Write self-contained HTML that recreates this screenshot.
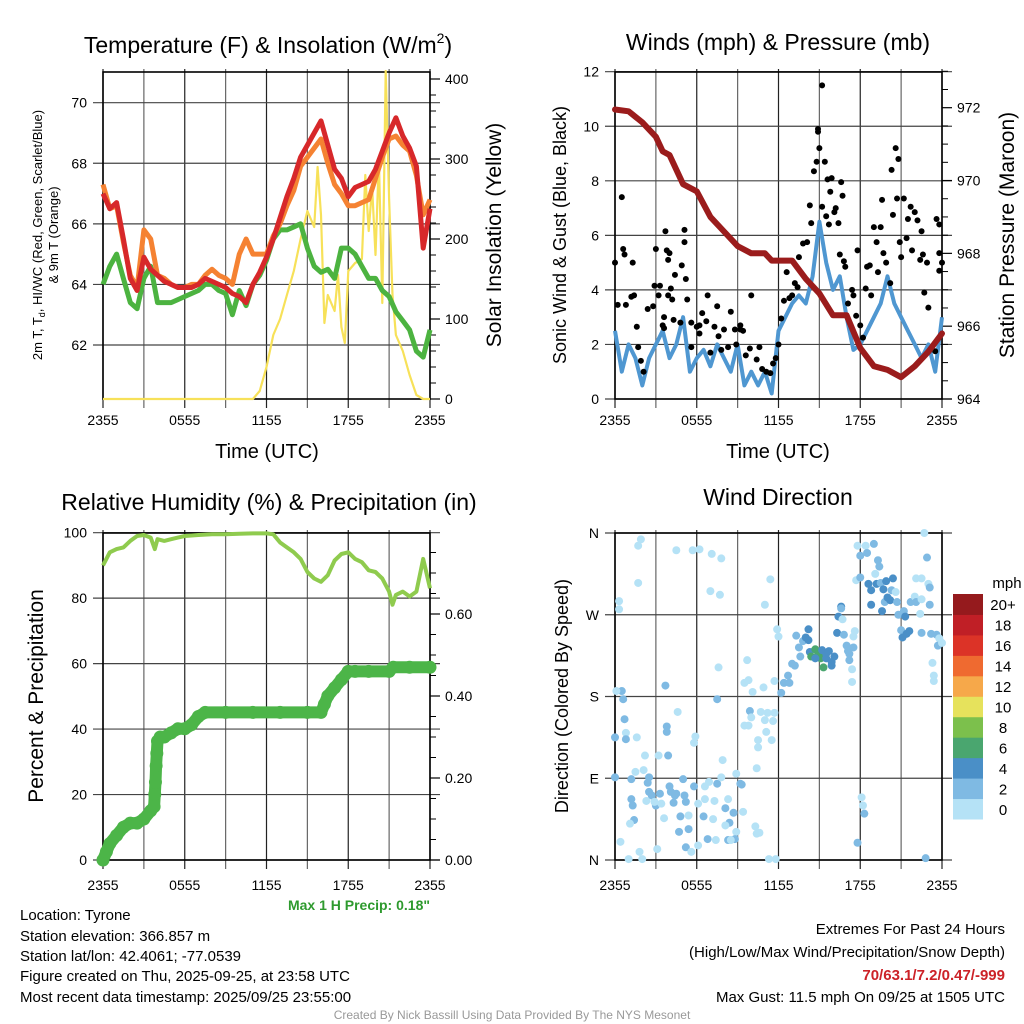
<!DOCTYPE html>
<html><head><meta charset="utf-8"><style>
html,body{margin:0;padding:0;background:#fff;}
svg{display:block;font-family:"Liberation Sans",sans-serif;}
</style></head><body>
<svg id="fig" width="1024" height="1024" viewBox="0 0 1024 1024" xmlns="http://www.w3.org/2000/svg">
<g id="titles">
<text x="268" y="53" font-size="23" text-anchor="middle">Temperature (F) &amp; Insolation (W/m<tspan font-size="14" dy="-10">2</tspan><tspan dy="10">)</tspan></text>
<text x="778" y="50" font-size="23" text-anchor="middle">Winds (mph) &amp; Pressure (mb)</text>
<text x="269" y="510" font-size="23" text-anchor="middle">Relative Humidity (%) &amp; Precipitation (in)</text>
<text x="778" y="505" font-size="23" text-anchor="middle">Wind Direction</text>
</g>
<g id="footer" font-size="15">
<text x="20" y="920">Location: Tyrone</text>
<text x="20" y="941">Station elevation: 366.857 m</text>
<text x="20" y="961">Station lat/lon: 42.4061; -77.0539</text>
<text x="20" y="981">Figure created on Thu, 2025-09-25, at 23:58 UTC</text>
<text x="20" y="1002">Most recent data timestamp: 2025/09/25 23:55:00</text>
<text x="1005" y="934" text-anchor="end">Extremes For Past 24 Hours</text>
<text x="1005" y="957" text-anchor="end">(High/Low/Max Wind/Precipitation/Snow Depth)</text>
<text x="1005" y="980" text-anchor="end" font-weight="bold" fill="#cc2228">70/63.1/7.2/0.47/-999</text>
<text x="1005" y="1002" text-anchor="end">Max Gust: 11.5 mph On 09/25 at 1505 UTC</text>
<text x="430" y="910" text-anchor="end" font-weight="bold" font-size="14" fill="#2e9a2e">Max 1 H Precip: 0.18"</text>
<text x="512" y="1019" text-anchor="middle" font-size="12" fill="#999">Created By Nick Bassill Using Data Provided By The NYS Mesonet</text>
</g>
</svg>
<script>
// ---------- data ----------
const xTickLabels = ["2355","0555","1155","1755","2355"];
const tHours = [0,0.5,1,1.5,2,2.5,3,3.5,4,4.5,5,5.5,6,6.5,7,7.5,8,8.5,9,9.5,10,10.5,11,11.5,12,12.5,13,13.5,14,14.5,15,15.5,16,16.5,17,17.5,18,18.5,19,19.5,20,20.5,21,21.5,22,22.5,23,23.5,24];
const tempRed = [67.0,66.5,66.7,65.5,64.2,63.8,64.9,64.5,64.3,64.1,64.0,63.9,63.9,63.9,64.0,64.2,64.1,64.0,63.9,63.7,63.6,63.4,64.0,64.4,64.9,65.5,66.2,66.9,67.5,68.2,68.6,69.0,69.4,68.6,67.8,67.5,66.9,67.2,67.3,67.4,67.8,68.4,69.0,69.5,68.9,68.5,67.9,65.2,66.5];
const tempOrange = [67.3,66.5,66.6,65.4,64.3,63.9,65.8,65.5,64.3,64.2,64.0,63.9,63.9,64.0,64.0,64.3,64.5,64.3,64.2,64.0,65.0,65.5,65.0,65.0,65.0,65.6,66.0,66.6,67.1,67.9,68.2,68.5,68.8,68.0,67.3,67.0,66.6,66.6,66.7,66.8,67.5,68.2,68.8,68.9,68.6,68.4,67.6,66.3,66.8];
const dewGreen = [64.0,64.6,65.0,64.2,63.4,63.2,64.2,64.6,63.4,63.4,63.4,63.5,63.6,63.7,63.8,64.0,64.0,63.8,63.7,63.0,63.8,63.3,64.0,64.3,64.8,65.5,65.8,65.8,65.9,66.0,65.2,64.6,64.4,64.5,64.2,65.2,65.2,65.0,64.6,64.2,64.2,63.8,63.6,63.1,62.8,62.5,61.8,61.6,62.5];
const solarHours = [0,11,11.5,12,12.5,13,13.5,14,14.5,15,15.25,15.5,15.75,16,16.25,16.5,17,17.25,17.5,17.75,18,18.5,19,19.25,19.5,19.75,20,20.25,20.5,20.75,21,21.25,21.5,22,22.5,23,23.5,24];
const solarVals = [0,0,10,40,80,100,130,160,200,235,225,215,290,230,95,130,110,155,90,70,160,170,175,280,210,265,180,300,120,410,250,130,80,60,30,5,0,0];
const pressHours = [0,1,2,3,3.5,4,5,6,7,8,9,10,11,11.5,12,13,14,15,16,17,18,19,20,21,22,23,24];
const pressVals = [971.95,971.9,971.6,971.2,970.8,970.7,969.9,969.7,969.0,968.6,968.2,968.0,968.0,967.8,967.8,967.8,967.3,966.9,966.3,966.3,965.4,964.9,964.8,964.6,964.9,965.3,965.8];
const windVals = [2.5,1.0,2.0,1.5,0.5,1.5,2.0,2.5,1.5,2.0,3.0,1.0,1.5,1.8,1.2,2.0,1.5,1.0,2.0,0.5,1.0,0.5,1.0,0.2,2.5,3.0,3.5,3.8,3.5,4.5,6.5,5.0,4.0,4.5,3.0,1.8,2.0,2.5,3.0,3.5,4.5,3.5,3.0,2.5,2.0,1.5,2.0,1.0,3.0];
const gustHours = [0,0.2,0.5,0.6,0.7,0.8,1.3,1.2,1.4,1.6,1.7,1.9,2.1,2.4,2.8,2.9,3.0,3.2,3.3,3.5,3.6,3.7,3.8,3.9,4.0,3.9,4.1,4.2,4.4,4.8,4.9,5.1,5.1,5.2,5.3,5.6,6.0,6.2,6.4,6.7,6.8,7.0,7.3,7.5,7.8,8.0,8.3,8.5,8.8,8.9,9.2,9.4,9.6,9.9,10.0,10.4,10.6,10.8,11.1,11.4,11.6,11.8,12.0,12.2,12.4,12.6,12.8,13.0,13.2,13.4,13.5,13.8,14.1,14.3,14.4,14.6,14.8,14.9,14.9,15.0,15.2,15.2,15.4,15.5,15.6,15.7,15.8,15.9,16.1,16.2,16.4,16.5,16.6,16.7,16.8,16.9,17.1,17.4,17.5,17.7,17.8,18.0,18.2,18.4,18.5,18.7,18.8,19.0,19.2,19.3,19.5,19.6,19.7,19.9,20.2,20.3,20.4,20.6,20.8,20.9,20.7,21.0,21.2,21.4,21.5,21.7,21.8,22.0,22.2,22.4,22.5,22.6,22.7,22.9,23.0,23.5,23.6,23.8,23.8,23.8,24.0,3.6,4.3,5.6,6.2,7.6,9.2];
const gustVals = [5.0,3.45,7.4,5.5,5.3,3.45,5.0,3.75,3.8,2.65,1.9,1.4,1.0,3.3,3.4,4.15,5.5,3.8,4.15,2.7,3.0,6.15,5.45,5.1,5.35,3.8,4.05,3.65,4.55,2.8,4.9,5.75,6.2,4.4,3.65,1.9,2.65,2.7,3.15,2.85,3.8,1.7,2.65,3.4,1.8,2.55,1.9,3.2,2.55,2.0,2.55,2.5,1.6,1.85,3.8,1.45,1.9,1.1,1.0,0.95,1.3,1.5,2.0,2.95,3.6,4.65,3.7,3.8,4.25,4.1,5.2,5.7,5.75,7.1,6.45,8.35,8.7,9.8,9.9,9.2,11.5,7.05,8.7,6.7,8.05,6.4,7.6,8.1,6.85,7.0,6.45,5.3,7.95,7.45,5.05,4.85,3.5,4.0,3.8,3.05,5.45,2.7,2.25,4.05,4.85,4.9,3.8,6.3,5.75,4.65,6.3,7.3,5.35,5.0,4.25,8.4,6.75,9.2,8.8,5.75,7.35,5.2,7.35,5.9,6.6,7.05,5.45,6.85,6.55,5.1,6.15,5.3,3.9,5.0,3.35,1.75,6.6,6.4,5.35,4.7,5.0,2.6,2.9,2.8,2.4,2.3,2.7];
const rhHours = [0,0.5,1,1.5,2,2.5,3,3.5,3.8,4,4.5,5,5.5,6,7,8,9,10,11,12,12.5,13,13.5,14,14.5,15,15.5,16,16.5,17,17.5,18,18.5,19,19.5,20,20.5,21,21.25,21.5,22,22.5,23,23.5,24];
const rhVals = [90,94,95,95.5,97.5,99,99.3,98.5,95,98,97.5,98,98.5,99,99.3,99.5,99.5,99.7,99.8,99.8,99.5,97,95.5,94,92,88,86,85,87,91.5,93.5,94,92,91,88.5,88,86,82,78,81,82,80.5,82,92,83];
const precipHours = [0,0.25,0.5,1,1.5,2,2.5,3,3.5,3.75,3.8,3.85,3.9,3.95,4.0,4.2,4.5,5,5.5,6,6.5,7,7.5,9,11,13,15,16,16.25,16.5,17,17.5,18,18.5,19.5,21,21.3,22.5,24];
const precipVals = [0,0.02,0.04,0.06,0.08,0.09,0.09,0.10,0.12,0.13,0.16,0.19,0.23,0.26,0.29,0.30,0.30,0.31,0.32,0.32,0.33,0.35,0.36,0.36,0.36,0.36,0.36,0.36,0.38,0.40,0.42,0.44,0.46,0.46,0.46,0.46,0.47,0.47,0.47];
const dirHours = [1.7,1.9,1.7,0.3,0.3,4.5,5.7,6.2,7.1,7.8,7.0,7.7,11.4,11.0,0.5,0.6,0.1,0.7,0.8,0.8,0.0,1.6,3.7,3.8,3.8,3.9,3.2,2.2,4.6,5.9,5.8,7.5,7.6,7.9,0.0,1.5,2.1,1.2,2.5,2.4,2.5,2.7,3.3,3.0,2.9,2.3,3.4,3.6,1.2,1.3,1.4,1.1,0.4,1.8,1.0,2.0,3.1,4.0,4.1,4.4,4.3,4.5,5.1,5.0,5.2,4.8,4.7,5.4,5.2,5.6,6.1,5.4,5.8,6.1,6.6,6.9,6.5,6.6,7.3,7.2,7.5,7.8,8.1,8.3,8.7,8.4,8.1,8.9,9.4,8.8,8.3,8.5,6.8,7.4,9.2,9.3,8.9,10.3,10.4,10.6,10.4,11.3,11.8,9.7,9.5,9.8,10.1,10.9,9.9,10.0,10.7,11.2,11.7,11.0,11.6,9.5,9.8,11.1,10.5,11.5,10.5,11.9,12.0,11.7,12.2,12.4,12.8,12.7,13.0,13.2,13.3,13.5,13.6,13.8,14.0,14.2,14.2,14.3,14.4,14.7,14.8,15.0,15.1,15.3,14.7,15.2,15.5,15.7,15.5,15.9,16.1,15.9,16.3,16.4,16.6,16.6,16.7,16.8,17.0,17.1,17.2,17.4,17.6,17.5,17.5,17.4,17.2,17.8,18.4,19.0,18.0,18.5,19.3,19.4,19.1,17.7,18.0,18.6,18.8,19.2,19.5,19.9,20.4,19.7,20.3,20.6,19.8,20.0,20.2,18.8,19.6,20.7,20.8,21.2,21.3,21.0,21.1,21.4,21.6,21.7,22.0,22.1,22.4,22.5,22.1,22.5,23.0,23.1,23.1,22.7,22.9,22.5,23.2,23.6,23.8,23.7,24.0,23.3,23.4,23.4,22.8,18.1,18.2,18.3,17.8];
const dirDegrees = [346,353,305,285,276,341,341,342,337,332,296,292,309,281,186,177,186,155,140,133,135,135,192,147,141,115,115,115,163,136,129,177,212,110,91,97,99,89,91,85,75,71,73,60,64,65,62,46,67,60,44,40,20,9,1,1,12,81,75,71,63,73,71,89,64,48,31,34,14,9,16,49,81,62,81,86,48,67,65,45,84,91,57,67,52,41,38,31,53,23,22,22,23,22,84,83,95,37,29,30,101,1,1,220,195,198,185,190,164,157,163,162,162,154,153,148,148,141,132,132,124,254,246,197,184,195,195,203,216,214,247,234,224,241,245,254,242,229,224,232,224,227,222,212,222,231,227,230,222,218,224,214,250,268,279,277,265,248,236,230,220,210,252,246,234,196,227,346,346,348,335,338,330,323,315,308,311,304,297,304,305,307,310,298,297,295,284,289,286,281,274,284,270,274,268,253,245,249,252,284,290,284,271,287,310,310,304,300,281,360,333,250,249,248,244,236,239,217,203,197,2,69,60,51,19];
const dirSpeeds = [1,1,1,1,1,1,1,1,1,1,1,1,1,1,3,3,1,3,1,3,3,1,3,3,3,3,1,1,1,1,1,3,1,1,3,1,1,3,3,3,3,3,3,3,1,1,1,1,3,3,3,1,1,1,1,1,1,3,3,3,3,3,3,3,3,3,3,3,3,1,1,1,3,1,1,1,3,1,1,1,3,1,3,1,3,3,1,1,1,3,3,1,3,1,3,3,1,1,1,1,1,1,1,1,1,1,1,1,3,1,1,1,1,1,1,1,1,1,1,1,1,1,1,1,3,3,3,3,3,3,3,3,3,3,5,5,5,5,7,7,7,7,7,7,5,5,5,5,5,5,5,5,5,5,5,3,1,3,3,3,3,1,1,1,3,1,3,1,1,3,3,3,3,3,1,1,3,5,5,5,3,5,5,5,3,1,3,5,5,5,5,3,3,3,5,3,5,5,5,3,1,3,1,1,1,1,1,3,3,1,3,3,3,3,1,3,1,1,1,1,3,1,1,3,3];
const speedBins = ["0","2","4","6","8","10","12","14","16","18","20+"];
const speedColors = ["#b5e2f6","#7fbae3","#4a8fc7","#4aa66f","#7cc04c","#e6e25c","#f6a84a","#ef6a30","#dc3327","#c01f26","#951a1d"];

// ---------- helpers ----------
const NS = "http://www.w3.org/2000/svg";
const svg = document.getElementById("fig");
function mk(tag, attrs, parent){const e=document.createElementNS(NS,tag);for(const k in attrs)e.setAttribute(k,attrs[k]);(parent||svg).appendChild(e);return e;}
function lin(d0,d1,r0,r1){return v=>r0+(v-d0)*(r1-r0)/(d1-d0);}
function pathFrom(xs,ys,fx,fy){return xs.map((h,i)=>(i?"L":"M")+fx(h).toFixed(1)+","+fy(ys[i]).toFixed(1)).join("");}

function frame(g,x0,x1,y0,y1,yTicks,fy,yLabels,name,tickDown,labelOff){
  const fx=lin(0,24,x0,x1);
  for(let h=0;h<=24;h+=3){
    const l=mk("line",{x1:fx(h),x2:fx(h),y1:y0-3,y2:y1+tickDown,stroke:(h%6===0)?"#222":"#666","stroke-width":1.2},g);
    
    
  }
  xTickLabels.forEach((t,i)=>{
    const tx=mk("text",{x:fx(i*6),y:y1+labelOff,"font-size":14,"text-anchor":"middle"},g);
    tx.textContent=t;
    
    
  });
  yTicks.forEach((v,i)=>{
    const y=fy(v);
    const l=mk("line",{x1:x0-10,x2:x1+10,y1:y,y2:y,stroke:"#444","stroke-width":1.2},g);
    
    
    const tx=mk("text",{x:x0-16,y:y+5,"font-size":14,"text-anchor":"end"},g);
    tx.textContent=yLabels[i];
    
    
  });
  const r=mk("rect",{x:x0,y:y0,width:x1-x0,height:y1-y0,fill:"none",stroke:"#000","stroke-width":1.6},g);
  
  
  return fx;
}
function rightAxis(g,x1,ticks,labels,fy,minors){
  minors.forEach(v=>{const l=mk("line",{x1:x1,x2:x1+6,y1:fy(v),y2:fy(v),stroke:"#000"},g);
    
    });
  ticks.forEach((v,i)=>{
    const l=mk("line",{x1:x1,x2:x1+10,y1:fy(v),y2:fy(v),stroke:"#000","stroke-width":1.2},g);
    
    
    const tx=mk("text",{x:x1+15,y:fy(v)+5,"font-size":14},g);
    tx.textContent=labels[i];
    
    
  });
}
function vtitle(g,x,y,txt,size,name){
  const t=mk("text",{x:x,y:y,"font-size":size,"text-anchor":"middle",transform:`rotate(-90 ${x} ${y})`},g);
  t.textContent=txt;
  
  
  return t;
}
function xtitle(g,x,y,name){
  const t=mk("text",{x:x,y:y,"font-size":20,"text-anchor":"middle"},g);
  t.textContent="Time (UTC)";
  
  
}

// ---------- panel 1: temperature ----------
{
const g=mk("g",{});


const x0=103,x1=430,y0=72,y1=399;
const fy=lin(62,70,345,102.7);
const fs=lin(0,400,399,79);
const fx=frame(g,x0,x1,y0,y1,[62,64,66,68,70],fy,["62","64","66","68","70"],"temperature",9,26);
rightAxis(g,x1,[0,100,200,300,400],["0","100","200","300","400"],fs,[20,40,60,80,120,140,160,180,220,240,260,280,320,340,360,380]);
const sol=mk("path",{d:pathFrom(solarHours,solarVals,fx,fs),fill:"none",stroke:"#f7e159","stroke-width":2.2,"stroke-linejoin":"round"},g);


const gr=mk("path",{d:pathFrom(tHours,dewGreen,fx,fy),fill:"none",stroke:"#4cb340","stroke-width":5,"stroke-linejoin":"round"},g);


const or=mk("path",{d:pathFrom(tHours,tempOrange,fx,fy),fill:"none",stroke:"#f58232","stroke-width":5,"stroke-linejoin":"round"},g);


const rd=mk("path",{d:pathFrom(tHours,tempRed,fx,fy),fill:"none",stroke:"#d7282a","stroke-width":5,"stroke-linejoin":"round"},g);


const t=mk("text",{x:42,y:235,"font-size":13,"text-anchor":"middle",transform:"rotate(-90 42 235)"},g);
t.innerHTML='2m T, T<tspan font-size="9" dy="3">d</tspan><tspan dy="-3">, HI/WC (Red, Green, Scarlet/Blue)</tspan>';


vtitle(g,58,235,"& 9m T (Orange)",13,'temperature-y-axis-title-line2');
vtitle(g,501,235,"Solar Insolation (Yellow)",21,'solar-y-axis-title');
xtitle(g,267,458,'temperature-x-axis-title');
}
// ---------- panel 2: winds ----------
{
const g=mk("g",{});


const x0=615,x1=942,y0=72,y1=399;
const fy=lin(0,12,399,71.7);
const fp=lin(964,972,399,107.7);
const fx=frame(g,x0,x1,y0,y1,[0,2,4,6,8,10,12],fy,["0","2","4","6","8","10","12"],"winds",9,26);
rightAxis(g,x1,[964,966,968,970,972],["964","966","968","970","972"],fp,[964.5,965,965.5,966.5,967,967.5,968.5,969,969.5,970.5,971,971.5,972.5,973]);
const wl=mk("path",{d:pathFrom(tHours,windVals,fx,fy),fill:"none",stroke:"#4f97d1","stroke-width":4,"stroke-linejoin":"round"},g);


gustHours.forEach((h,i)=>{
  const c=mk("circle",{cx:fx(h),cy:fy(gustVals[i]),r:3,fill:"#000"},g);
  
  
});
const pl=mk("path",{d:pathFrom(pressHours,pressVals,fx,fp),fill:"none",stroke:"#9b1c1c","stroke-width":6,"stroke-linejoin":"round","stroke-linecap":"round"},g);


vtitle(g,566,235,"Sonic Wind & Gust (Blue, Black)",18,'wind-y-axis-title');
vtitle(g,1014,235,"Station Pressure (Maroon)",21,'pressure-y-axis-title');
xtitle(g,778,458,'winds-x-axis-title');
}
// ---------- panel 3: humidity ----------
{
const g=mk("g",{});


const x0=103,x1=430,y0=533,y1=860;
const fy=lin(0,100,860,532.7);
const fpr=lin(0,0.6,860,614);
const fx=frame(g,x0,x1,y0,y1,[0,20,40,60,80,100],fy,["0","20","40","60","80","100"],"humidity",9,30);
rightAxis(g,x1,[0,0.2,0.4,0.6],["0.00","0.20","0.40","0.60"],fpr,[0.05,0.1,0.15,0.25,0.3,0.35,0.45,0.5,0.55,0.65,0.7,0.75]);
const rh=mk("path",{d:pathFrom(rhHours,rhVals,fx,fy),fill:"none",stroke:"#8fcb4e","stroke-width":4,"stroke-linejoin":"round"},g);


const pr=mk("path",{d:pathFrom(precipHours,precipVals,fx,fpr),fill:"none",stroke:"#4cb548","stroke-width":12,"stroke-linejoin":"round","stroke-linecap":"round"},g);


precipHours.forEach((h,i)=>{
  const c=mk("circle",{cx:fx(h),cy:fpr(precipVals[i]),r:6.5,fill:"#4cb548"},g);
  
  
});
vtitle(g,43,696,"Percent & Precipitation",21,'humidity-y-axis-title');
}
// ---------- panel 4: wind direction ----------
{
const g=mk("g",{});


const x0=615,x1=942,y0=533,y1=860;
const fy=lin(0,360,860,533);
const fx=frame(g,x0,x1,y0,y1,[0,90,180,270,360],fy,["N","E","S","W","N"],"wind-direction",9,30);
dirHours.forEach((h,i)=>{
  const sp=(dirSpeeds[i]===undefined)?1:dirSpeeds[i];
  const bin=Math.min(10,Math.floor(sp/2));
  const c=mk("circle",{cx:fx(h),cy:fy(dirDegrees[i]),r:4,fill:speedColors[bin]},g);
  
  
});
vtitle(g,568,696,"Direction (Colored By Speed)",18,'direction-y-axis-title');
const cb=mk("g",{},g);


const bh=(819-594)/11;
speedBins.forEach((lab,i)=>{
  const y=819-(i+1)*bh;
  const r=mk("rect",{x:953,y:y,width:30,height:bh+0.5,fill:speedColors[i]},cb);
  
  
  const t=mk("text",{x:1003,y:y+bh/2+6,"font-size":15,"text-anchor":"middle"},cb);
  t.textContent=lab;
  
  
});
const u=mk("text",{x:1007,y:588,"font-size":15,"text-anchor":"middle"},cb);
u.textContent="mph";


}
</script>
</body></html>
